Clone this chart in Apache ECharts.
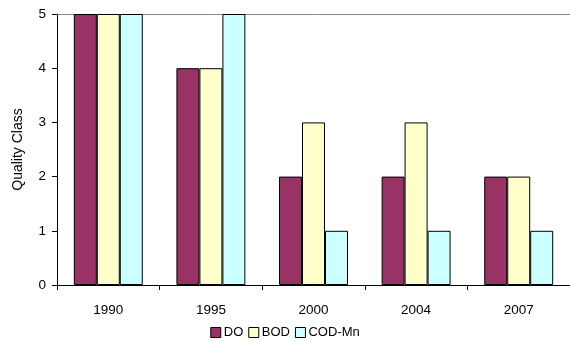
<!DOCTYPE html>
<html><head><meta charset="utf-8">
<script src="https://cdn.jsdelivr.net/npm/echarts@6/dist/echarts.min.js"></script>
<style>html,body{margin:0;padding:0;background:#fff}#c{width:570px;height:341px}</style>
</head><body><div id="c"></div>
<script>
var categories = ['1990','1995','2000','2004','2007'];
var doValues = [5,4,2,2,2];
var bodValues = [5,4,3,3,2];
var codValues = [5,5,1,1,1];
var yTicks = [0,1,2,3,4,5];

var chart = echarts.init(document.getElementById('c'), null, {renderer:'canvas'});
var font = 'Liberation Sans, Arial, sans-serif';
function ser(name, data, color){
  return {name:name, type:'bar', data:data, barWidth:'22.4%', barGap:'0%', xAxisIndex:0,
    itemStyle:{color:color, borderColor:'#000', borderWidth:1}};
}
chart.setOption({
  animation:false,
  grid:{left:57, top:14, width:522, height:271, containLabel:false},
  xAxis:[{type:'category', data:categories,
    axisLine:{lineStyle:{color:'#000', width:1}},
    axisTick:{show:true, alignWithLabel:false, length:5, lineStyle:{color:'#000'}},
    axisLabel:{color:'#000', fontSize:13.5, fontFamily:font, margin:18},
    splitLine:{show:false}},
   {type:'category', data:categories, position:'top',
    axisLine:{show:true, lineStyle:{color:'#888', width:1}},
    axisTick:{show:false}, axisLabel:{show:false}, splitLine:{show:false}}],
  yAxis:{type:'value', min:0, max:5, interval:1,
    name:'Quality Class', nameLocation:'middle', nameGap:32, nameRotate:90,
    nameTextStyle:{color:'#000', fontSize:14, fontFamily:font},
    axisLine:{show:true, lineStyle:{color:'#000', width:1}},
    axisTick:{show:true, length:5, lineStyle:{color:'#000'}},
    axisLabel:{color:'#000', fontSize:13.5, fontFamily:font, margin:11,
      formatter:function(v){return yTicks.indexOf(v)>=0 ? String(v) : '';}},
    splitLine:{show:false}},
  legend:{bottom:-3, left:'center', itemWidth:10, itemHeight:10, itemGap:5,
    icon:'rect',
    textStyle:{color:'#000', fontSize:13, fontFamily:font, padding:[0,0,0,-2]},
    itemStyle:{borderColor:'#000', borderWidth:1},
    data:['DO','BOD','COD-Mn']},
  series:[ser('DO', doValues, '#993366'), ser('BOD', bodValues, '#FFFFCC'), ser('COD-Mn', codValues, '#CCFFFF')]
});
</script></body></html>
